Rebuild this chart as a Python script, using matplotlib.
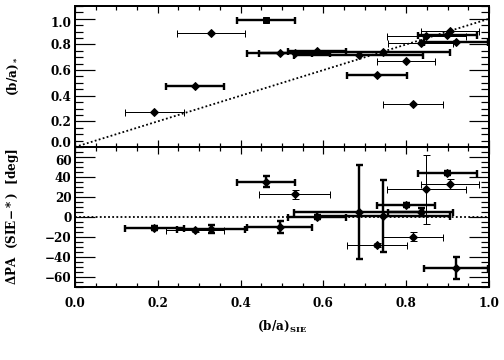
import matplotlib
matplotlib.use("Agg")
import matplotlib.pyplot as plt
import matplotlib.transforms as mtransforms
from matplotlib.ticker import MultipleLocator

plt.rcParams['font.family'] = ['DejaVu Serif']
plt.rcParams['font.weight'] = 'bold'
plt.rcParams['mathtext.fontset'] = 'dejavuserif'
plt.rcParams['mathtext.default'] = 'bf'

# (b/a) of the SIE lens model and its error
ba_sie = [0.192, 0.290, 0.328, 0.461, 0.494, 0.531, 0.585, 0.685, 0.745,
          0.729, 0.800, 0.817, 0.835, 0.849, 0.899, 0.906, 0.920]
ba_sie_err = [0.072, 0.070, 0.082, 0.070, 0.079, 0.086, 0.070, 0.155, 0.160,
              0.073, 0.070, 0.072, 0.078, 0.095, 0.071, 0.071, 0.078]
# (b/a) of the light
ba_star = [0.27, 0.476, 0.89, 0.99, 0.731, 0.73, 0.749, 0.72, 0.739,
           0.562, 0.673, 0.333, 0.809, 0.866, 0.874, 0.907, 0.821]
# position angle difference
dpa = [-11, -13, -12, 35, -10, 22.5, 0, 5, 1,
       -28.5, 12, -20, 5, 27.5, 43.5, 33, -51]
dpa_err = [2, 2, 4, 5.5, 6, 4.3, 2, 47, 36,
           2, 2, 4.5, 4, 34.5, 2, 4.7, 11]

# line weight flags per panel (thick or thin bars)
thick_top = [0, 1, 0, 1, 1, 1, 1, 1, 1, 1, 0, 0, 0, 0, 1, 0, 1]
thick_bot = [1, 0, 1, 1, 1, 0, 1, 1, 1, 0, 1, 0, 1, 0, 1, 0, 1]
square_idx = 3

fig = plt.figure(figsize=(7, 5), dpi=72)
ax1 = fig.add_axes([0.1488, 0.5917, 0.8214, 0.3917])
ax2 = fig.add_axes([0.1488, 0.2028, 0.8214, 0.3889])

for i in range(len(ba_sie)):
    lw = 2.4 if thick_top[i] else 1.0
    mk = 's' if i == square_idx else 'D'
    ax1.errorbar(ba_sie[i], ba_star[i], xerr=ba_sie_err[i], fmt=mk,
                 color='black', ms=5.5, elinewidth=lw, capsize=3.5,
                 capthick=lw)
    lw = 2.4 if thick_bot[i] else 1.0
    ax2.errorbar(ba_sie[i], dpa[i], xerr=ba_sie_err[i], yerr=dpa_err[i],
                 fmt='D', color='black', ms=5.5, elinewidth=lw,
                 capsize=3.5, capthick=lw)

ax1.plot([0, 1.1], [0, 1.1], color='black', lw=1.8, ls=(0, (1, 1.3)))
ax2.axhline(0, color='black', lw=1.8, ls=(0, (1, 1.3)))

ax1.set_xlim(0, 1)
ax1.set_ylim(0, 1.1)
ax2.set_xlim(0, 1)
ax2.set_ylim(-70, 70)

ax1.set_yticks([0.0, 0.2, 0.4, 0.6, 0.8, 1.0])
ax1.yaxis.set_minor_locator(MultipleLocator(0.05))
ax2.set_yticks([-60, -40, -20, 0, 20, 40, 60])
ax2.yaxis.set_minor_locator(MultipleLocator(5))
ax1.yaxis.set_major_formatter(lambda v, p: '%.1f' % v)
for ax in (ax1, ax2):
    ax.xaxis.set_major_locator(MultipleLocator(0.2))
    ax.xaxis.set_minor_locator(MultipleLocator(0.05))
    ax.xaxis.set_major_formatter(lambda v, p: '%.1f' % v)
    ax.tick_params(which='both', direction='in', top=True, right=True,
                   labelsize=12, width=1.2, color='black')
    ax.tick_params(axis='x', which='major', length=7)
    ax.tick_params(axis='x', which='minor', length=4)
    ax.tick_params(axis='y', which='major', length=20)
    ax.tick_params(axis='y', which='minor', length=8)
    for s in ax.spines.values():
        s.set_linewidth(2)
ax1.tick_params(axis='x', labelbottom=False)
ax2.tick_params(axis='x', pad=10)

# nudge the end labels of the top panel inward, as in the original
ticks = ax1.yaxis.get_major_ticks()
up = mtransforms.ScaledTranslation(0, 5 / 72, fig.dpi_scale_trans)
down = mtransforms.ScaledTranslation(0, -3 / 72, fig.dpi_scale_trans)
ticks[0].label1.set_transform(ticks[0].label1.get_transform() + up)
ticks[-1].label1.set_transform(ticks[-1].label1.get_transform() + down)
ticks = ax2.yaxis.get_major_ticks()
ticks[-1].label1.set_transform(ticks[-1].label1.get_transform() + down)

ax1.set_ylabel('(b/a)$_*$', fontsize=12, fontweight='bold')
ax2.set_ylabel('$\\Delta$PA  (SIE$-*$)  [deg]', fontsize=12, fontweight='bold')
ax2.set_xlabel('(b/a)$_{\\mathbf{SIE}}$', fontsize=12, fontweight='bold')
ax1.yaxis.set_label_coords(-0.13, 0.5)
ax2.yaxis.set_label_coords(-0.13, 0.5)
ax2.xaxis.set_label_coords(0.5, -0.23)

fig.savefig('out.png', dpi=72)
